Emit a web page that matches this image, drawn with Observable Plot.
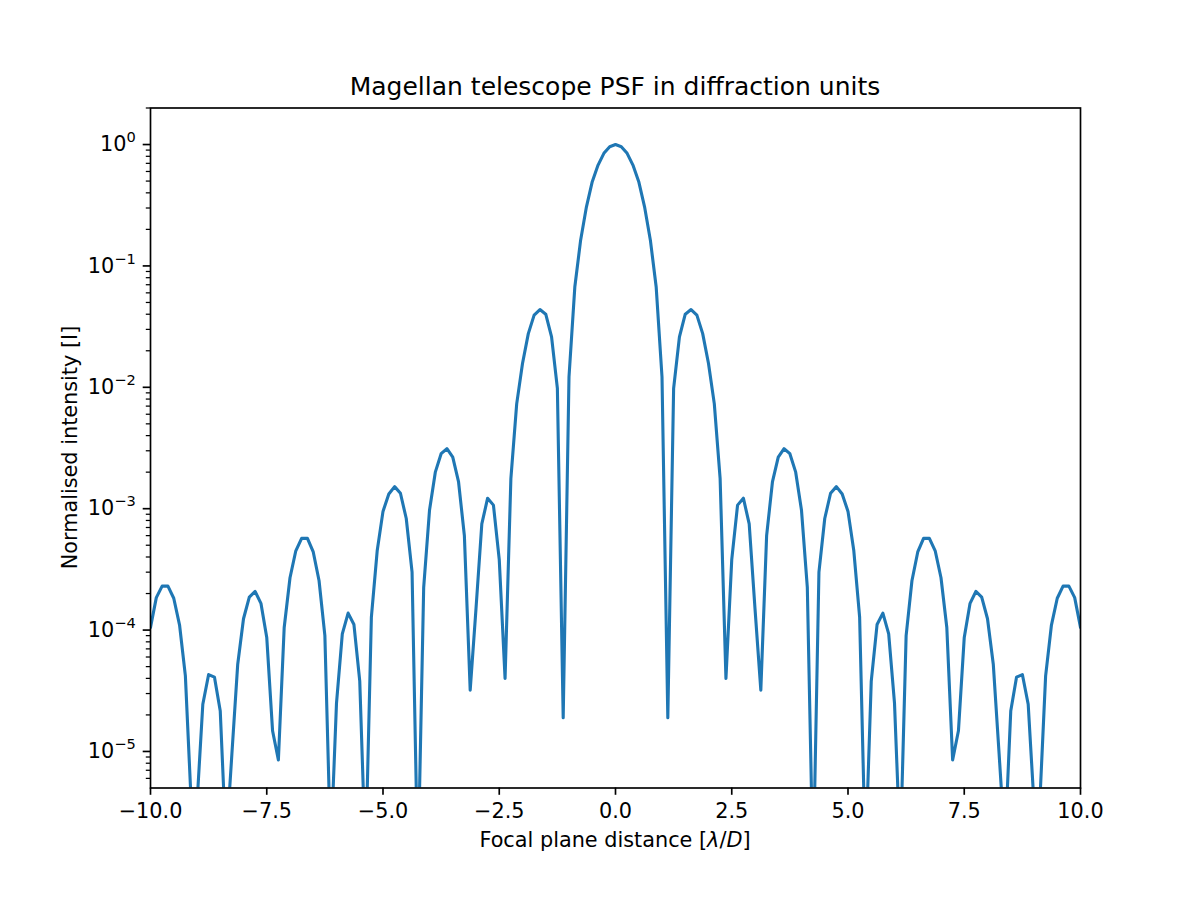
<!DOCTYPE html>
<html>
<head>
<meta charset="utf-8">
<script src="https://cdn.jsdelivr.net/npm/d3@7"></script>
<script src="https://cdn.jsdelivr.net/npm/@observablehq/plot@0.6"></script>
<style>
  html, body { margin: 0; padding: 0; background: #ffffff; }
  #chart { width: 1200px; height: 900px; }
</style>
</head>
<body>
<div id="chart"></div>
<script>
// Focal plane distance samples [lambda/D]
const focalDistance = [
  -10,-9.875,-9.75,-9.625,-9.5,-9.375,-9.25,-9.125,
  -9,-8.875,-8.75,-8.625,-8.5,-8.375,-8.25,-8.125,
  -8,-7.875,-7.75,-7.625,-7.5,-7.375,-7.25,-7.125,
  -7,-6.875,-6.75,-6.625,-6.5,-6.375,-6.25,-6.125,
  -6,-5.875,-5.75,-5.625,-5.5,-5.375,-5.25,-5.125,
  -5,-4.875,-4.75,-4.625,-4.5,-4.375,-4.25,-4.125,
  -4,-3.875,-3.75,-3.625,-3.5,-3.375,-3.25,-3.125,
  -3,-2.875,-2.75,-2.625,-2.5,-2.375,-2.25,-2.125,
  -2,-1.875,-1.75,-1.625,-1.5,-1.375,-1.25,-1.125,
  -1,-0.875,-0.75,-0.625,-0.5,-0.375,-0.25,-0.125,
  0,
  0.125,0.25,0.375,0.5,0.625,0.75,0.875,1,
  1.125,1.25,1.375,1.5,1.625,1.75,1.875,2,
  2.125,2.25,2.375,2.5,2.625,2.75,2.875,3,
  3.125,3.25,3.375,3.5,3.625,3.75,3.875,4,
  4.125,4.25,4.375,4.5,4.625,4.75,4.875,5,
  5.125,5.25,5.375,5.5,5.625,5.75,5.875,6,
  6.125,6.25,6.375,6.5,6.625,6.75,6.875,7,
  7.125,7.25,7.375,7.5,7.625,7.75,7.875,8,
  8.125,8.25,8.375,8.5,8.625,8.75,8.875,9,
  9.125,9.25,9.375,9.5,9.625,9.75,9.875,10
];

// Normalised intensity
const intensity = [
  1.05e-4,1.85e-4,2.3e-4,2.3e-4,1.83e-4,1.1e-4,4.2e-5,3.8e-6,
  3.7e-6,2.45e-5,4.3e-5,4.1e-5,2.15e-5,1.7e-6,9.5e-6,5.2e-5,
  1.24e-4,1.87e-4,2.08e-4,1.66e-4,8.7e-5,1.48e-5,8.5e-6,1.05e-4,
  2.7e-4,4.5e-4,5.7e-4,5.7e-4,4.4e-4,2.55e-4,9.0e-5,1.5e-6,
  2.5e-5,9.3e-5,1.38e-4,1.11e-4,3.8e-5,1.3e-6,1.28e-4,4.5e-4,
  9.5e-4,1.32e-3,1.52e-3,1.34e-3,8.3e-4,3.0e-4,1.0e-6,2.25e-4,
  9.7e-4,2.0e-3,2.84e-3,3.12e-3,2.66e-3,1.66e-3,6.0e-4,3.2e-5,
  1.5e-4,7.5e-4,1.22e-3,1.07e-3,3.8e-4,4.0e-5,1.77e-3,7.3e-3,
  1.57e-2,2.77e-2,3.93e-2,4.37e-2,4.0e-2,2.6e-2,9.8e-3,1.9e-5,
  1.22e-2,6.7e-2,0.163,0.307,0.494,0.677,0.846,0.96,
  1.0,
  0.96,0.846,0.677,0.494,0.307,0.163,6.7e-2,1.22e-2,
  1.9e-5,9.8e-3,2.6e-2,4.0e-2,4.37e-2,3.93e-2,2.77e-2,1.57e-2,
  7.3e-3,1.77e-3,4.0e-5,3.8e-4,1.07e-3,1.22e-3,7.5e-4,1.5e-4,
  3.2e-5,6.0e-4,1.66e-3,2.66e-3,3.12e-3,2.84e-3,2.0e-3,9.7e-4,
  2.25e-4,1.0e-6,3.0e-4,8.3e-4,1.34e-3,1.52e-3,1.32e-3,9.5e-4,
  4.5e-4,1.28e-4,1.3e-6,3.8e-5,1.11e-4,1.38e-4,9.3e-5,2.5e-5,
  1.5e-6,9.0e-5,2.55e-4,4.4e-4,5.7e-4,5.7e-4,4.5e-4,2.7e-4,
  1.05e-4,8.5e-6,1.48e-5,8.7e-5,1.66e-4,2.08e-4,1.87e-4,1.24e-4,
  5.2e-5,9.5e-6,1.7e-6,2.15e-5,4.1e-5,4.3e-5,2.45e-5,3.7e-6,
  3.8e-6,4.2e-5,1.1e-4,1.83e-4,2.3e-4,2.3e-4,1.85e-4,1.05e-4
];

const xTicks = [-10, -7.5, -5, -2.5, 0, 2.5, 5, 7.5, 10];
const yMajorTicks = [1e-5, 1e-4, 1e-3, 1e-2, 1e-1, 1];
const yMinorTicks = [
  6e-6, 7e-6, 8e-6, 9e-6,
  2e-5, 3e-5, 4e-5, 5e-5, 6e-5, 7e-5, 8e-5, 9e-5,
  2e-4, 3e-4, 4e-4, 5e-4, 6e-4, 7e-4, 8e-4, 9e-4,
  2e-3, 3e-3, 4e-3, 5e-3, 6e-3, 7e-3, 8e-3, 9e-3,
  2e-2, 3e-2, 4e-2, 5e-2, 6e-2, 7e-2, 8e-2, 9e-2,
  2e-1, 3e-1, 4e-1, 5e-1, 6e-1, 7e-1, 8e-1, 9e-1,
  2
];
const titleText = "Magellan telescope PSF in diffraction units";
const yLabelText = "Normalised intensity [I]";
const xLabelParts = [
  {t: "Focal plane distance [", italic: false},
  {t: "λ", italic: true},
  {t: "/", italic: false},
  {t: "D", italic: true},
  {t: "]", italic: false}
];

const data = focalDistance.map((x, i) => ({x, y: intensity[i]}));

const FONT = 20.8;
const chart = Plot.plot({
  width: 1200,
  height: 900,
  marginLeft: 150,
  marginRight: 120,
  marginTop: 107.5,
  marginBottom: 112.5,
  style: {fontFamily: "DejaVu Sans", fontSize: FONT + "px", color: "black", background: "white", overflow: "visible"},
  x: {domain: [-10, 10]},
  y: {type: "log", domain: [5e-6, 2]},
  marks: [
    Plot.line(data, {x: "x", y: "y", stroke: "#1f77b4", strokeWidth: 3.1, clip: true}),
    Plot.frame({stroke: "black", strokeWidth: 1.67}),
    Plot.axisX({ticks: xTicks, tickSize: 7.3, tickPadding: 7.5, strokeWidth: 1.67,
      tickFormat: d => d3.format(".1f")(d), label: null, fontSize: FONT}),
    Plot.axisY({ticks: yMinorTicks, tickSize: 4.2, strokeWidth: 1.25, tickFormat: () => "", label: null}),
    Plot.axisY({ticks: yMajorTicks, tickSize: 7.3, tickPadding: 7.5, strokeWidth: 1.67,
      tickFormat: d => String(Math.round(Math.log10(d))), label: null, fontSize: FONT})
  ]
});

document.getElementById("chart").appendChild(chart);

const svg = d3.select(chart);
const [x0, x1] = chart.scale("x").range;
const [yb, yt] = chart.scale("y").range;
const xMid = (x0 + x1) / 2;
const yMid = (yb + yt) / 2;

// power-of-ten tick labels with superscript exponent
svg.selectAll('g[aria-label="y-axis tick label"] text').each(function () {
  const t = d3.select(this);
  const s = t.text();
  if (!s) return;
  t.text("10");
  t.append("tspan").attr("dy", -9).attr("font-size", 14.6).text(s.replace("-", "\u2212"));
});

// title
svg.append("text")
  .attr("x", xMid).attr("y", yt - 12.5)
  .attr("text-anchor", "middle")
  .attr("font-family", "DejaVu Sans")
  .attr("font-size", 25)
  .attr("fill", "black")
  .text(titleText);

// x label
const xl = svg.append("text")
  .attr("x", xMid).attr("y", yb + 59)
  .attr("text-anchor", "middle")
  .attr("font-family", "DejaVu Sans")
  .attr("font-size", FONT)
  .attr("fill", "black");
xLabelParts.forEach(p => {
  const ts = xl.append("tspan").text(p.t);
  if (p.italic) ts.attr("font-style", "italic");
});

// y label
svg.append("text")
  .attr("transform", `translate(${x0 - 73.5},${yMid}) rotate(-90)`)
  .attr("text-anchor", "middle")
  .attr("font-family", "DejaVu Sans")
  .attr("font-size", FONT)
  .attr("fill", "black")
  .text(yLabelText);
</script>
</body>
</html>
